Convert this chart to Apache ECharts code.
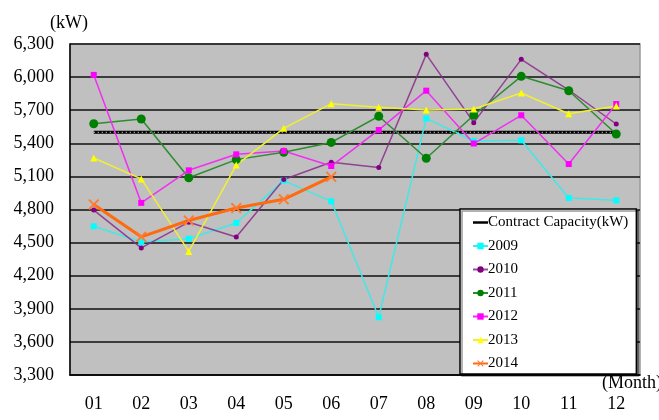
<!DOCTYPE html>
<html>
<head>
<meta charset="utf-8">
<script src="https://cdn.jsdelivr.net/npm/echarts@6/dist/echarts.min.js"></script>
<style>
html,body{margin:0;padding:0;background:#fff;}
#chart{width:659px;height:420px;}
</style>
</head>
<body>
<div id="chart"></div>
<script>
const months = ['01','02','03','04','05','06','07','08','09','10','11','12'];
const yTicks = [3300,3600,3900,4200,4500,4800,5100,5400,5700,6000,6300];
const contract = [5500,5500,5500,5500,5500,5500,5500,5500,5500,5500,5500,5500];
const y2009 = [4648,4505,4535,4678,5062,4874,3823,5626,5421,5427,4904,4883];
const y2010 = [4795,4452,4685,4550,5072,5228,5180,6206,5587,6161,5883,5575];
const y2011 = [5577,5620,5088,5252,5318,5408,5645,5264,5654,6007,5876,5484];
const y2012 = [6020,4860,5155,5300,5330,5194,5521,5877,5398,5654,5212,5756];
const y2013 = [5267,5077,4420,5203,5536,5759,5726,5702,5711,5856,5668,5738];
const y2014 = [4845,4552,4700,4813,4892,5096];

const xPath = 'path://M0,1.2 L1.2,0 L5,3.8 L8.8,0 L10,1.2 L6.2,5 L10,8.8 L8.8,10 L5,6.2 L1.2,10 L0,8.8 L3.8,5 Z';
const dashIcon = 'path://M0,0 L15,0 L15,2.5 L0,2.5 Z';
const serif = 'Liberation Serif';

const chart = echarts.init(document.getElementById('chart'));
chart.setOption({
  animation: false,
  backgroundColor: '#ffffff',
  textStyle: { fontFamily: serif, color: '#000' },
  grid: {
    left: 70, top: 44, right: 19, bottom: 45,
    show: true, backgroundColor: '#C0C0C0', borderColor: '#9a9a9a', borderWidth: 1.5
  },
  legend: {
    orient: 'vertical',
    left: 460, top: 209,
    data: [
      { name: 'Contract Capacity(kW)', icon: dashIcon, itemStyle: { color: '#000' } },
      '2009','2010','2011','2012','2013','2014'
    ],
    symbolKeepAspect: true,
    backgroundColor: '#ffffff',
    borderColor: '#000', borderWidth: 1.5,
    padding: [6, 8, 3, 12],
    itemWidth: 15, itemHeight: 8, itemGap: 8.5,
    textStyle: { fontFamily: serif, fontSize: 15, color: '#000', padding: [0,0,0,-5] },
    shadowColor: 'rgba(0,0,0,0.4)', shadowOffsetX: 2, shadowOffsetY: 2, shadowBlur: 0
  },
  xAxis: {
    type: 'category',
    data: months,
    boundaryGap: true,
    axisLine: { lineStyle: { color: '#000', width: 1.5 } },
    axisTick: { inside: true, length: 7, lineStyle: { color: '#000', width: 1.5 } },
    axisLabel: { fontFamily: serif, fontSize: 18, color: '#000', margin: 20 }
  },
  yAxis: {
    type: 'value',
    min: yTicks[0], max: yTicks[yTicks.length-1], interval: 300,
    axisLine: { show: true, lineStyle: { color: '#000', width: 1.5 } },
    axisTick: { show: false },
    splitLine: { lineStyle: { color: '#111', width: 1.5 } },
    axisLabel: {
      fontFamily: serif, fontSize: 18, color: '#000', margin: 16,
      formatter: v => v.toLocaleString('en-US')
    }
  },
  graphic: [
    { type: 'text', left: 50, top: 14, style: { text: '(kW)', font: '18px "Liberation Serif"', fill: '#000' } },
    { type: 'text', left: 602, top: 374, style: { text: '(Month)', font: '18px "Liberation Serif"', fill: '#000' } }
  ],
  series: [
    { name: 'Contract Capacity(kW)', type: 'line', data: contract, symbol: 'none',
      lineStyle: { color: '#000', width: 3 }, itemStyle: { color: '#000' } },
    { name: 'contract-dots', type: 'line', data: contract, symbol: 'none', silent: true,
      lineStyle: { color: '#fff', width: 1, type: [1, 3] } },
    { name: '2009', type: 'line', data: y2009, symbol: 'rect', symbolSize: 6,
      lineStyle: { color: '#40E8E8', width: 1.5 }, itemStyle: { color: '#00FFFF' } },
    { name: '2010', type: 'line', data: y2010, symbol: 'circle', symbolSize: 5,
      lineStyle: { color: '#8A2A8A', width: 1.5, opacity: 0.85 }, itemStyle: { color: '#800080' } },
    { name: '2011', type: 'line', data: y2011, symbol: 'circle', symbolSize: 9,
      lineStyle: { color: '#2E8B2E', width: 1.5 }, itemStyle: { color: '#008000' } },
    { name: '2012', type: 'line', data: y2012, symbol: 'rect', symbolSize: 6,
      lineStyle: { color: '#F030F0', width: 1.5 }, itemStyle: { color: '#FF00FF' } },
    { name: '2013', type: 'line', data: y2013, symbol: 'triangle', symbolSize: 7,
      lineStyle: { color: '#F0F030', width: 1.5 }, itemStyle: { color: '#FFFF00' } },
    { name: '2014', type: 'line', data: y2014, symbol: xPath, symbolSize: 11,
      lineStyle: { color: '#FF6A10', width: 3 }, itemStyle: { color: '#FF7A30' } }
  ]
});
</script>
</body>
</html>
